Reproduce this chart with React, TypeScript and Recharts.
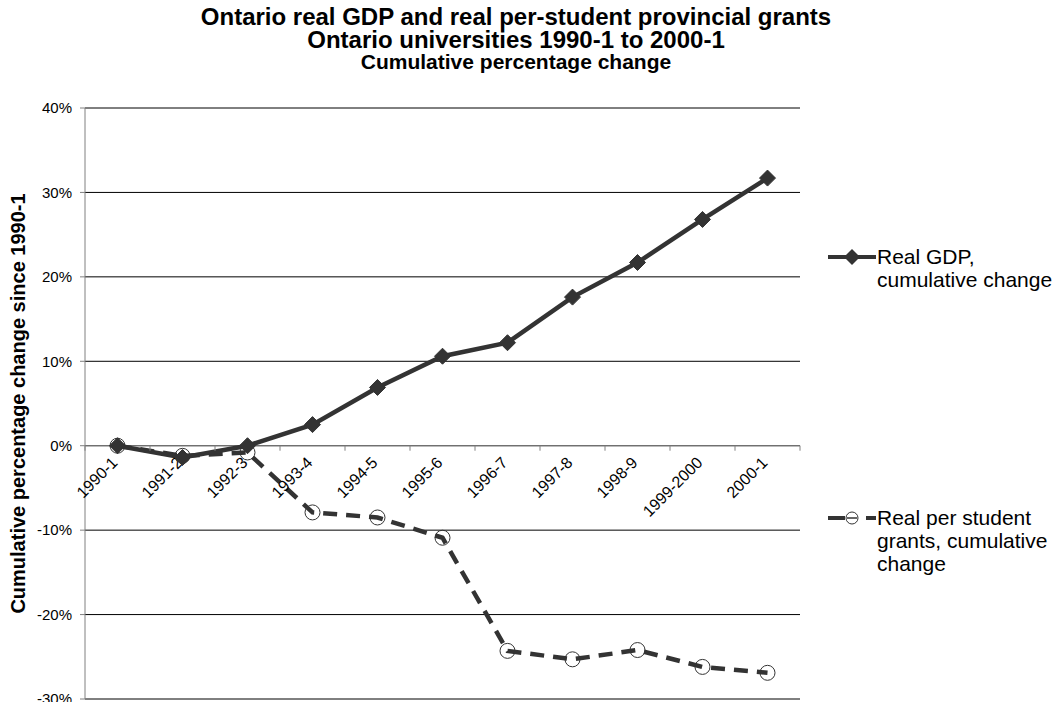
import { LineChart, Line, XAxis, YAxis, CartesianGrid, ReferenceLine, ReferenceDot } from "recharts";

const YEARS = [
  "1990-1", "1991-2", "1992-3", "1993-4", "1994-5", "1995-6",
  "1996-7", "1997-8", "1998-9", "1999-2000", "2000-1",
];
const GDP_CHANGE = [0, -1.4, 0, 2.5, 6.9, 10.6, 12.2, 17.6, 21.7, 26.8, 31.7];
const GRANTS_CHANGE = [0, -1.2, -0.8, -7.9, -8.5, -10.9, -24.3, -25.3, -24.2, -26.2, -26.9];
const Y_TICKS = [-30, -20, -10, 0, 10, 20, 30, 40];

const W = 1054;
const H = 702;
const MARGIN = { top: 108, right: 254, bottom: 3, left: 0 };
const Y_AXIS_W = 85;
const BAND = (W - MARGIN.left - MARGIN.right - Y_AXIS_W) / YEARS.length;
const INK = "#333333";
const FONT = "'Liberation Sans', Arial, sans-serif";

const data = YEARS.map((name, i) => ({
  name,
  gdp: GDP_CHANGE[i],
  grants: GRANTS_CHANGE[i],
}));

function Diamond(props: any) {
  const { cx, cy } = props;
  if (cx == null || cy == null) return null;
  const r = 8;
  return (
    <polygon
      points={`${cx},${cy - r} ${cx + r},${cy} ${cx},${cy + r} ${cx - r},${cy}`}
      fill={INK}
      stroke={INK}
    />
  );
}

function Ring(props: any) {
  const { cx, cy } = props;
  if (cx == null || cy == null) return null;
  return <circle cx={cx} cy={cy} r={7.5} fill="none" stroke={INK} strokeWidth={1} />;
}

// category label + tick mark drawn on the zero line
function ZeroLabel(props: any) {
  const { cx, cy, label, last } = props;
  if (cx == null || cy == null) return null;
  const tx = cx + 1;
  const ty = cy + 18;
  return (
    <g>
      <line x1={cx - BAND / 2} y1={cy} x2={cx - BAND / 2} y2={cy + 5} stroke="#808080" />
      {last && <line x1={cx + BAND / 2} y1={cy} x2={cx + BAND / 2} y2={cy + 5} stroke="#808080" />}
      <text
        x={tx}
        y={ty}
        textAnchor="end"
        transform={`rotate(-45 ${tx} ${ty})`}
        fontSize={16}
        fontFamily={FONT}
        fill="#000"
      >
        {label}
      </text>
    </g>
  );
}

function AxisTitle(props: any) {
  const vb = props.viewBox;
  if (!vb) return null;
  const x = vb.x + 25;
  const y = vb.y + vb.height / 2;
  return (
    <text
      x={x}
      y={y}
      transform={`rotate(-90 ${x} ${y})`}
      textAnchor="middle"
      fontSize={20}
      fontWeight="bold"
      fontFamily={FONT}
      fill="#000"
    >
      Cumulative percentage change since 1990-1
    </text>
  );
}

function Legend() {
  const text: React.CSSProperties = {
    position: "absolute",
    left: 877,
    fontFamily: FONT,
    fontSize: 21,
    lineHeight: "23px",
    color: "#000",
    whiteSpace: "nowrap",
  };
  return (
    <>
      <svg style={{ position: "absolute", left: 826, top: 245 }} width={52} height={24}>
        <line x1={2} y1={12} x2={50} y2={12} stroke={INK} strokeWidth={4} />
        <polygon points="26,4 34,12 26,20 18,12" fill={INK} />
      </svg>
      <div style={{ ...text, top: 245 }}>
        Real GDP,
        <br />
        cumulative change
      </div>
      <svg style={{ position: "absolute", left: 826, top: 506 }} width={52} height={24}>
        <line x1={2} y1={12} x2={19} y2={12} stroke={INK} strokeWidth={4} />
        <line x1={40} y1={12} x2={50} y2={12} stroke={INK} strokeWidth={4} />
        <circle cx={26} cy={12} r={6} fill="#fff" stroke={INK} strokeWidth={1} />
        <line x1={21} y1={12} x2={31} y2={12} stroke={INK} strokeWidth={1.5} />
      </svg>
      <div style={{ ...text, top: 506 }}>
        Real per student
        <br />
        grants, cumulative
        <br />
        change
      </div>
    </>
  );
}

export default function App() {
  return (
    <div style={{ position: "absolute", left: 0, top: 0, width: W, height: H, background: "#fff", fontFamily: FONT }}>
      <div style={{ position: "absolute", left: 0, width: 1032, top: 5, textAlign: "center", fontWeight: "bold", color: "#000" }}>
        <div style={{ fontSize: 24, lineHeight: "23px" }}>Ontario real GDP and real per-student provincial grants</div>
        <div style={{ fontSize: 24, lineHeight: "23px" }}>Ontario universities 1990-1 to 2000-1</div>
        <div style={{ fontSize: 21, lineHeight: "22px" }}>Cumulative percentage change</div>
      </div>
      <div style={{ position: "absolute", left: 0, top: 0 }}>
        <LineChart width={W} height={H} data={data} margin={MARGIN}>
          <CartesianGrid vertical={false} stroke="#000" strokeOpacity={1} />
          <XAxis dataKey="name" hide padding={{ left: BAND / 2, right: BAND / 2 }} />
          <YAxis
            width={Y_AXIS_W}
            domain={[-30, 40]}
            ticks={Y_TICKS}
            interval={0}
            tickFormatter={(v: number) => `${v}%`}
            tick={{ fontSize: 15, fill: "#000", fontFamily: FONT }}
            tickLine={{ stroke: "#808080" }}
            tickSize={5}
            tickMargin={8}
            axisLine={{ stroke: "#808080" }}
            label={<AxisTitle />}
          />
          <ReferenceLine y={0} stroke="#808080" />
          {YEARS.map((y, i) => (
            <ReferenceDot
              key={y}
              x={y}
              y={0}
              r={0}
              fill="none"
              stroke="none"
              shape={(p: any) => <ZeroLabel {...p} label={y} last={i === YEARS.length - 1} />}
            />
          ))}
          <Line
            dataKey="grants"
            stroke={INK}
            strokeWidth={4.5}
            strokeDasharray="14 9"
            dot={<Ring />}
            activeDot={false}
            isAnimationActive={false}
          />
          <Line
            dataKey="gdp"
            stroke={INK}
            strokeWidth={4.5}
            dot={<Diamond />}
            activeDot={false}
            isAnimationActive={false}
          />
        </LineChart>
      </div>
      <Legend />
    </div>
  );
}
